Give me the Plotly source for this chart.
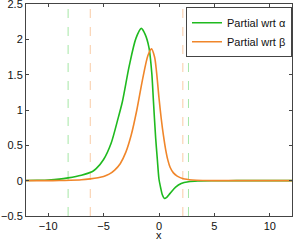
import plotly.graph_objects as go

# Partial derivative wrt alpha (green)
x_alpha = [-12, -11, -10, -9, -8.2, -7, -6, -5.67, -5, -4.32, -3.73, -3.3, -2.69, -2.09,
           -1.6, -1.25, -0.9, -0.65, -0.5, -0.3, -0.15, 0.0, 0.15, 0.3, 0.5, 0.7, 1.0,
           1.5, 2.0, 2.66, 3.5, 5, 7, 12]
y_alpha = [0.002, 0.005, 0.01, 0.022, 0.04, 0.078, 0.13, 0.17, 0.3, 0.53, 0.86, 1.12, 1.62, 2.01,
           2.155, 2.07, 1.88, 1.52, 1.12, 0.6, 0.3, 0.02, -0.1, -0.2, -0.253, -0.235, -0.18,
           -0.09, -0.04, -0.015, -0.005, -0.001, 0.0, 0.0]

# Partial derivative wrt beta (orange)
x_beta = [-12, -10, -9, -8, -7, -6.2, -5.5, -5, -4.5, -4, -3.5, -3, -2.5, -2, -1.5, -1.0,
          -0.68, -0.4, -0.23, 0.0, 0.2, 0.4, 0.6, 0.8, 1.0, 1.3, 1.64, 2.2, 3.0, 4.0, 5.0, 7, 12]
y_beta = [0.0, 0.001, 0.002, 0.005, 0.012, 0.025, 0.042, 0.06, 0.092, 0.15, 0.24, 0.40, 0.65,
          1.0, 1.42, 1.77, 1.865, 1.75, 1.55, 1.17, 0.88, 0.64, 0.44, 0.29, 0.19, 0.11, 0.065,
          0.027, 0.01, 0.003, 0.001, 0.0, 0.0]

# Dashed vertical marker positions
alpha_bounds = [-8.2, 2.66]
beta_bounds = [-6.2, 2.15]

x_ticks = [-10, -5, 0, 5, 10]
y_ticks = [-0.5, 0, 0.5, 1, 1.5, 2, 2.5]
y_tick_text = ["\u22120.5", "0", "0.5", "1", "1.5", "2", "2.5"]

GREEN = "#1fba1f"
ORANGE = "#f0862a"
GREEN_LIGHT = "#a6e6a6"
ORANGE_LIGHT = "#f9cba6"

fig = go.Figure()

for xb in alpha_bounds:
    fig.add_vline(x=xb, line=dict(color=GREEN_LIGHT, width=1, dash="dash"), layer="below")
for xb in beta_bounds:
    fig.add_vline(x=xb, line=dict(color=ORANGE_LIGHT, width=1, dash="dash"), layer="below")

fig.add_trace(go.Scatter(x=x_alpha, y=y_alpha, mode="lines", name="Partial wrt α",
                         line=dict(color=GREEN, width=1.6, shape="spline", smoothing=0.8)))
fig.add_trace(go.Scatter(x=x_beta, y=y_beta, mode="lines", name="Partial wrt β",
                         line=dict(color=ORANGE, width=1.6, shape="spline", smoothing=0.8)))

axis_common = dict(showgrid=False, zeroline=False, showline=True, linecolor="#444",
                   linewidth=1, mirror="ticks", ticks="inside", ticklen=3,
                   tickcolor="#444", tickfont=dict(size=11, color="#111"),
                   ticklabeloverflow="allow")

fig.update_xaxes(range=[-12, 12], tickvals=x_ticks, automargin=False, **axis_common)
fig.update_yaxes(range=[-0.5, 2.5], tickvals=y_ticks, ticktext=y_tick_text,
                 automargin=False, **axis_common)

fig.add_annotation(text="x", x=0, xref="x", y=0, yref="paper", yanchor="top",
                   yshift=-11, showarrow=False, font=dict(size=11, color="#111"))

fig.update_layout(
    width=293, height=240,
    margin=dict(l=26, r=1, t=4, b=24),
    paper_bgcolor="white", plot_bgcolor="white",
    font=dict(family="Liberation Sans, Arial, sans-serif", size=11, color="#111"),
    legend=dict(x=1, xanchor="right", y=0.985, yanchor="top",
                bgcolor="white", bordercolor="#444", borderwidth=1,
                font=dict(size=11), tracegroupgap=0, itemwidth=30),
    showlegend=True,
)

fig.write_html("out.html", config={"displayModeBar": False},
               post_script="document.body.style.margin='0';document.body.style.overflow='hidden';")
